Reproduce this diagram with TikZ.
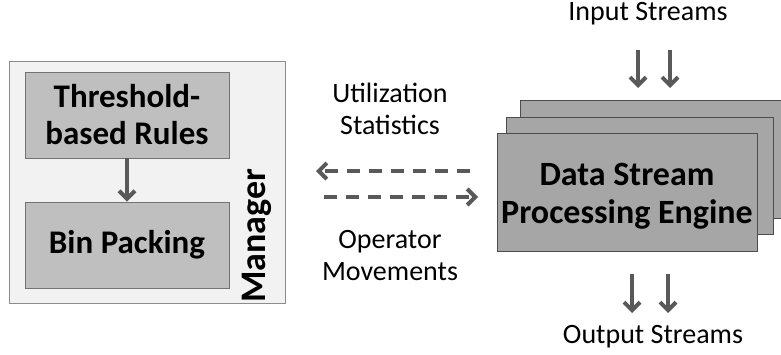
\documentclass[tikz,border=0pt]{standalone}
\usepackage{fontspec}
\setmainfont{Carlito}
\usetikzlibrary{arrows.meta}
\definecolor{panel}{HTML}{F2F2F2}
\definecolor{boxfill}{HTML}{BFBFBF}
\definecolor{engfill}{HTML}{A6A6A6}
\definecolor{arrowgray}{HTML}{595959}
\begin{document}
\begin{tikzpicture}[x=1pt,y=-1pt,
  panelbox/.style={draw=black!45,fill=panel,line width=0.8pt},
  rulebox/.style={draw=black!55,fill=boxfill,line width=0.8pt},
  engbox/.style={draw=black!70,fill=engfill,line width=1pt,inner sep=0pt},
  lbl/.style={font=\fontsize{28}{32}\selectfont,align=center},
  blbl/.style={font=\fontsize{33}{37}\selectfont\bfseries,align=center},
  elbl/.style={font=\fontsize{34}{38}\selectfont\bfseries,align=center},
  flow/.style={draw=arrowgray,line width=4pt,-{Straight Barb[length=8pt,width=16pt,line width=4pt]}},
  dflow/.style={flow,line width=4.5pt,dash pattern=on 13pt off 9pt}]
\useasboundingbox (0,0) rectangle (781,354);
% manager panel with its two stages
\draw[panelbox] (9,61) rectangle (285,303);
\node[rulebox,minimum width=204pt,minimum height=86pt,blbl] (rules) at (127,115) {Threshold-\\based Rules};
\node[rulebox,minimum width=204pt,minimum height=86pt,blbl] (bin) at (127,245) {Bin Packing};
\draw[flow] (rules.south) -- (bin.north);
\node[rotate=90,font=\fontsize{36}{36}\selectfont\bfseries] (mgr) at (257,236) {Manager};
% stacked engine instances
\draw[engbox] (520,100) rectangle (783,218);
\draw[engbox] (506,117) rectangle (773,234);
\node[engbox,minimum width=260pt,minimum height=118pt] (eng) at (627,192) {};
\node[elbl] (englbl) at (627,196) {Data Stream\\Processing Engine};
% input and output streams
\node[lbl] (in) at (648,14) {Input Streams};
\node[lbl] (out) at (653,337) {Output Streams};
\coordinate (i1) at (638,50); \coordinate (i2) at (670,50);
\draw[flow] (i1) -- ++(0,38);
\draw[flow] (i2) -- ++(0,38);
\coordinate (o1) at (632,274); \coordinate (o2) at (668,274);
\draw[flow] (o1) -- ++(0,39);
\draw[flow] (o2) -- ++(0,39);
% control loop between manager and engine
\coordinate (s1) at (470,171); \coordinate (s2) at (316,171);
\coordinate (m1) at (324,197); \coordinate (m2) at (478,197);
\draw[dflow] (s1) -- (s2);
\draw[dflow] (m1) -- (m2);
\node[lbl] (util) at (390,109) {Utilization\\Statistics};
\node[lbl] (ops) at (390,256) {Operator\\Movements};
\end{tikzpicture}
\end{document}
